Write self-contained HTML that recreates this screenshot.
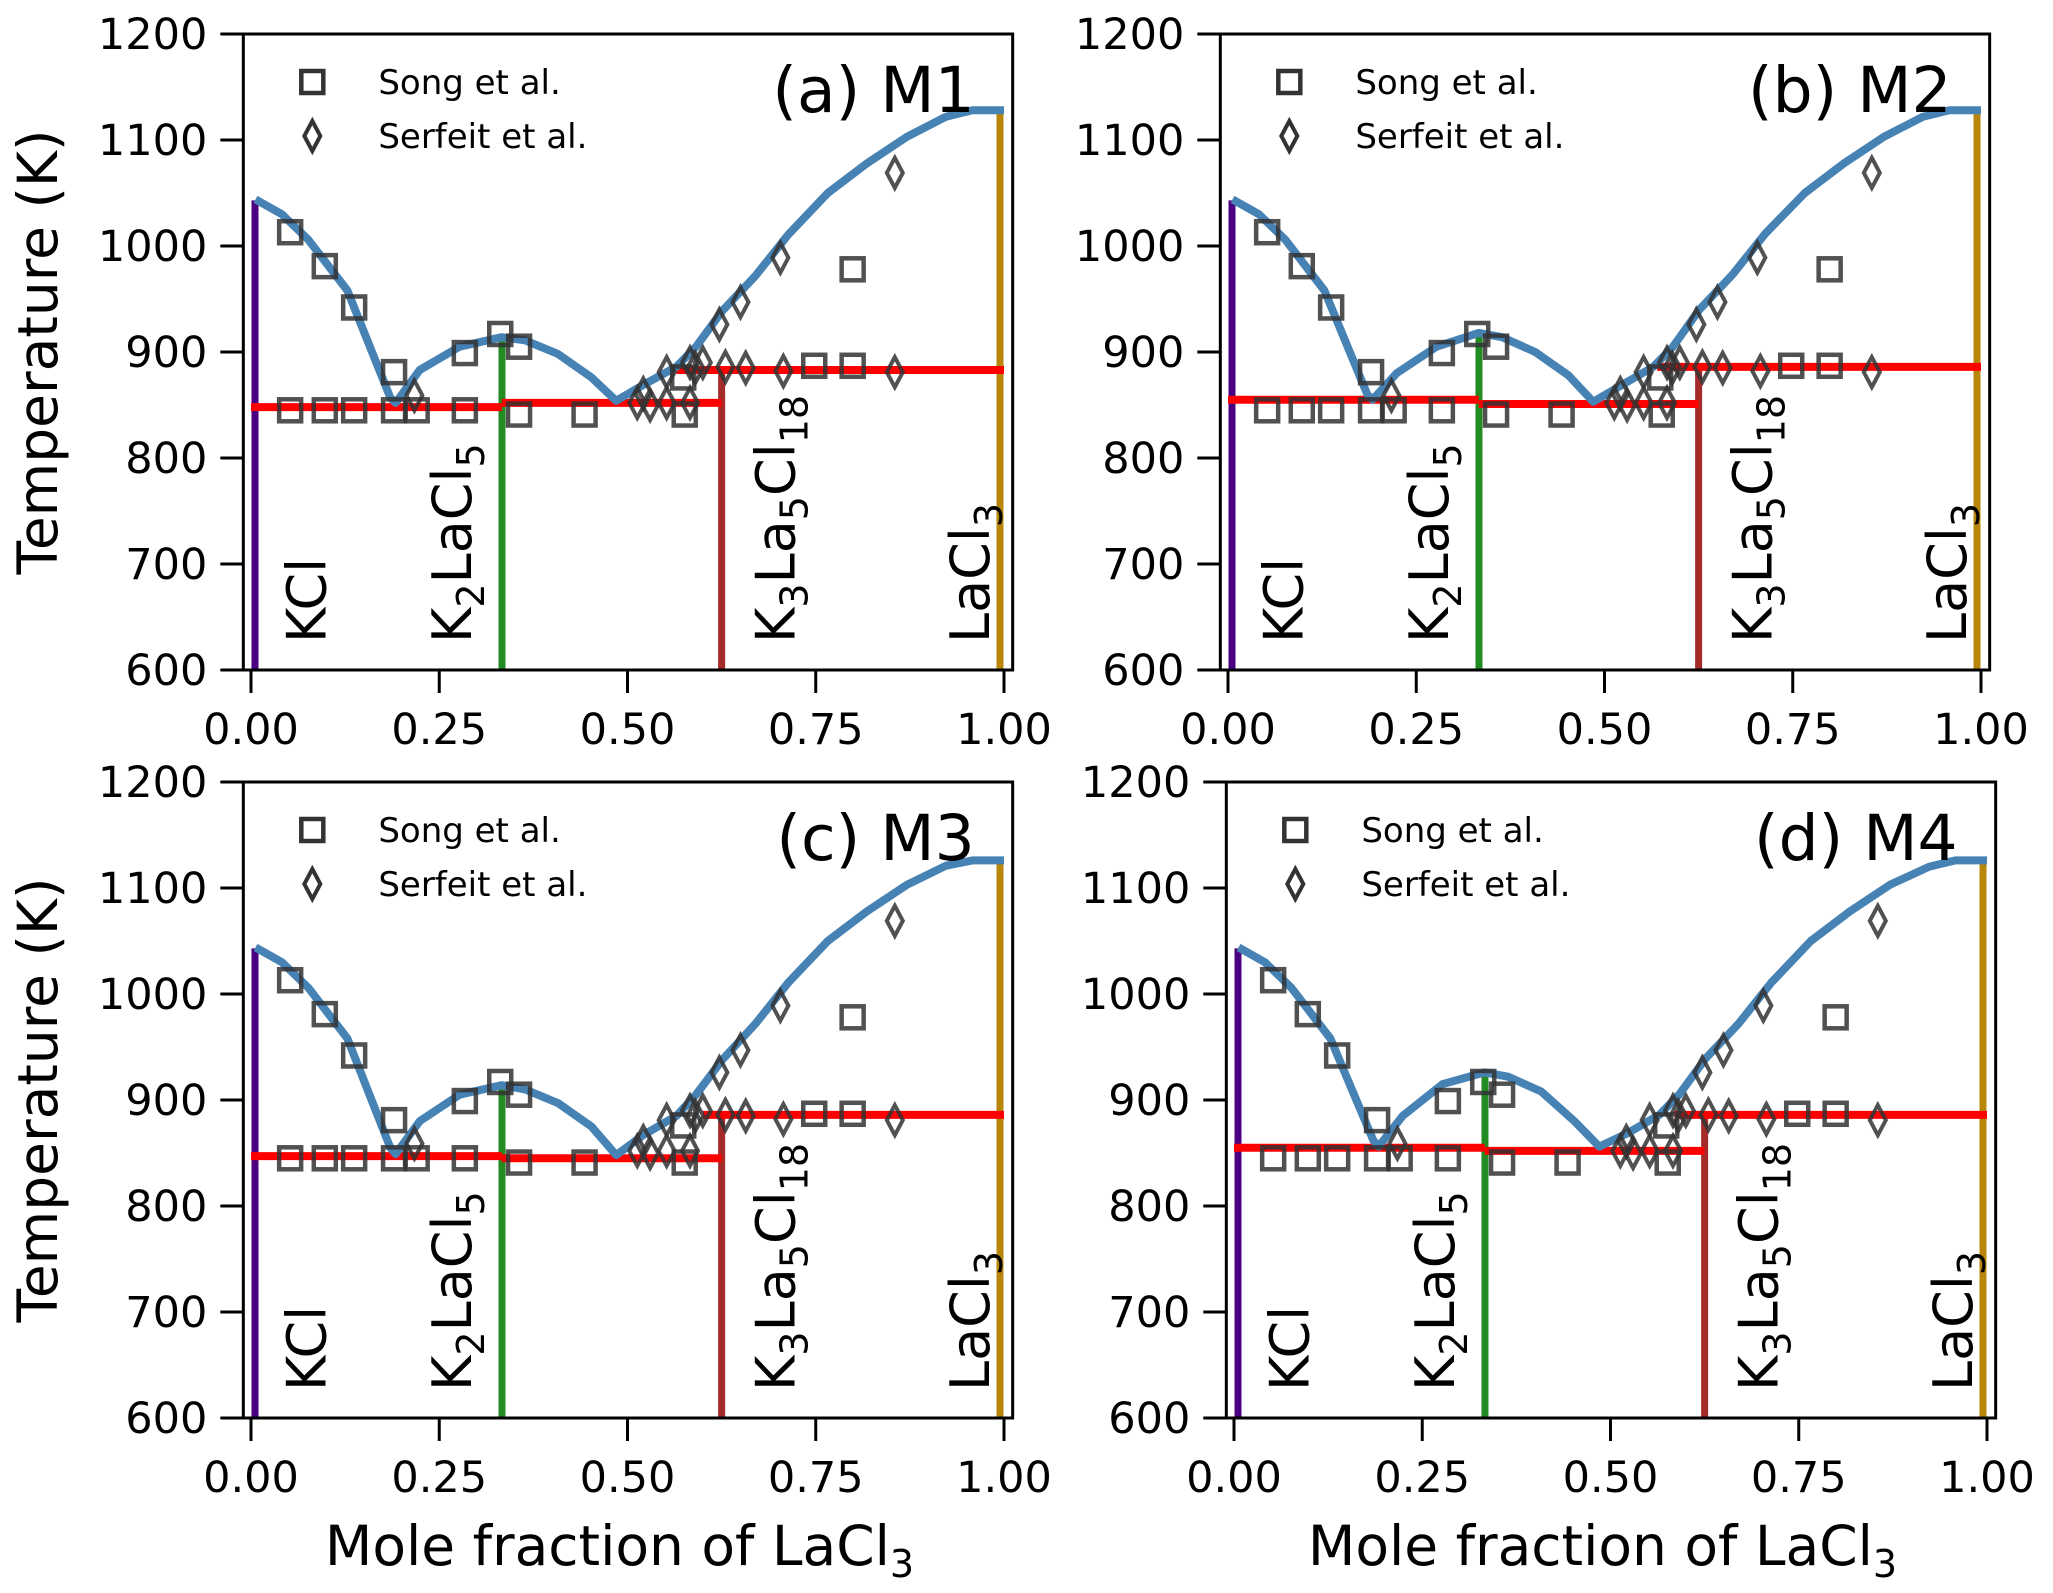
<!DOCTYPE html>
<html><head><meta charset="utf-8"><style>
html,body{margin:0;padding:0;background:#fff}
svg{display:block;font-family:"DejaVu Sans","Liberation Sans",sans-serif}
</style></head><body>
<svg id="fig" width="2053" height="1593" viewBox="0 0 2053 1593" xmlns="http://www.w3.org/2000/svg">
<rect width="2053" height="1593" fill="#fff"/>
</svg>
<script>
// ---- data ----
const panelTitles = ["(a) M1", "(b) M2", "(c) M3", "(d) M4"];
const xTicks = [0, 0.25, 0.5, 0.75, 1.0];
const xTickLabels = ["0.00", "0.25", "0.50", "0.75", "1.00"];
const yTicks = [600, 700, 800, 900, 1000, 1100, 1200];
const yTickLabels = ["600", "700", "800", "900", "1000", "1100", "1200"];
const liqX = [0.006,0.041,0.076,0.128,0.185,0.192,0.224,0.277,0.333,0.364,0.408,0.452,0.485,0.521,0.565,0.591,0.626,0.67,0.714,0.766,0.818,0.871,0.923,0.958,1.0];
const liqM1 = [1044,1030,1006,958,857,852,883,905,914,911,898,876,854,869,886,905,939,972,1011,1050,1078,1103,1122,1128,1128];
const liqM2 = [1044,1030,1006,958,860,855,880,905,918,914,900,878,853,868,886,905,940,973,1012,1050,1078,1103,1122,1128,1128];
const liqM3 = [1044,1030,1006,958,855,849,880,905,914,910,897,875,848,867,885,905,938,972,1011,1050,1078,1103,1121,1126,1126];
const liqM4 = [1044,1030,1006,958,862,856,885,915,926,922,908,880,856,868,886,905,939,972,1011,1050,1078,1103,1120,1126,1126];
const liquidus = [liqM1, liqM2, liqM3, liqM4];
const redM1 = [[0,0.333,848],[0.333,0.625,852],[0.565,1.0,883]];
const redM2 = [[0,0.333,855],[0.333,0.625,851],[0.57,1.0,886]];
const redM3 = [[0,0.333,847],[0.333,0.625,845],[0.6,1.0,886]];
const redM4 = [[0,0.333,855],[0.333,0.625,852],[0.585,1.0,886]];
const redLines = [redM1, redM2, redM3, redM4];
const compX = [0, 0.3333, 0.625, 1.0];
const compTopM1 = [1043, 915, 884, 1130];
const compTopM2 = [1043, 918, 886, 1128];
const compTopM3 = [1043, 914, 886, 1126];
const compTopM4 = [1043, 928, 886, 1126];
const compTops = [compTopM1, compTopM2, compTopM3, compTopM4];
const songX = [0.052,0.098,0.137,0.19,0.052,0.098,0.137,0.19,0.22,0.284,0.284,0.331,0.356,0.356,0.443,0.576,0.574,0.748,0.799,0.799];
const songT = [1013,981,942,881,845,845,845,845,845,845,899,917,905,841,841,841,876,887,887,978];
const serfX = [0.217,0.513,0.521,0.552,0.552,0.583,0.583,0.6,0.622,0.63,0.65,0.657,0.703,0.707,0.855,0.855,0.53,0.59];
const serfT = [859,852,861,881,852,852,890,890,926,886,947,885,989,882,1069,881,850,885];

// ---- layout ----
const NS = "http://www.w3.org/2000/svg";
const svg = document.getElementById("fig");
const panels = [
  {x0:251, x1:1004, yTop:34, yBot:670, ylab:true, xlab:false},
  {x0:1228, x1:1981, yTop:34, yBot:670, ylab:false, xlab:false},
  {x0:251, x1:1004, yTop:782, yBot:1418, ylab:true, xlab:true},
  {x0:1234, x1:1987, yTop:782, yBot:1418, ylab:false, xlab:true}
];
function mk(tag, attrs, parent){
  const e = document.createElementNS(NS, tag);
  for (const k in attrs) e.setAttribute(k, attrs[k]);
  (parent||svg).appendChild(e);
  return e;
}
function comp(g, parts, x, y){
  const t = mk("text", {transform:`translate(${x},${y}) rotate(-90)`, "font-size":54, fill:"#000"}, g);
  
  
  parts.forEach(p=>{
    const s = mk("tspan", {}, t);
    if (p[1]) { s.setAttribute("font-size", 38); s.setAttribute("dy", 13); }
    else { s.setAttribute("dy", p[2]||0); }
    s.textContent = p[0];
  });
  return t;
}
panels.forEach((P, i)=>{
  const sx = v => P.x0 + v*(P.x1-P.x0);
  const sy = T => P.yBot - (T-600)/600*(P.yBot-P.yTop);
  const g = mk("g", {});
  
  
  const fl = sx(-0.0102), fr = sx(1.0115);
  const colors = ["#4b0082","#228b22","#a52a2a","#b8860b"];
  compX.forEach((cx, k)=>{
    const off = (k==0?4:(k==3?-4:0));
    const l = mk("line", {x1:sx(cx)+off, x2:sx(cx)+off, y1:sy(600), y2:sy(compTops[i][k]), stroke:colors[k], "stroke-width":7}, g);
    
    
  });
  redLines[i].forEach(r=>{
    const l = mk("line", {x1:sx(r[0]), x2:sx(r[1]), y1:sy(r[2]), y2:sy(r[2]), stroke:"#ff0000", "stroke-width":8}, g);
    
    
  });
  const pts = liqX.map((x,k)=>sx(x).toFixed(1)+","+sy(liquidus[i][k]).toFixed(1)).join(" ");
  const pl = mk("polyline", {points:pts, fill:"none", stroke:"#4682b4", "stroke-width":8, "stroke-linejoin":"round"}, g);
  
  
  songX.forEach((x,k)=>{
    const m = mk("rect", {x:sx(x)-11, y:sy(songT[k])-11, width:22, height:22, fill:"none", stroke:"#333", "stroke-opacity":0.85, "stroke-width":4.5}, g);
    
    
  });
  serfX.forEach((x,k)=>{
    const cx = sx(x), cy = sy(serfT[k]);
    const m = mk("polygon", {points:`${cx},${cy-15} ${cx+8},${cy} ${cx},${cy+15} ${cx-8},${cy}`, fill:"none", stroke:"#333", "stroke-opacity":0.85, "stroke-width":4}, g);
    
    
  });
  const by = sy(600) - 27;
  comp(g, [["KCl",0]], sx(0.099), by);
  comp(g, [["K",0],["2",1],["LaCl",0,-13],["5",1]], sx(0.292), by);
  comp(g, [["K",0],["3",1],["La",0,-13],["5",1],["Cl",0,-13],["18",1]], sx(0.722), by);
  comp(g, [["LaCl",0],["3",1]], sx(0.98), by);
  const fr_ = mk("rect", {x:fl, y:P.yTop, width:fr-fl, height:P.yBot-P.yTop, fill:"none", stroke:"#000", "stroke-width":3}, g);
  
  
  yTicks.forEach((t,k)=>{
    mk("line", {x1:fl-23, x2:fl, y1:sy(t), y2:sy(t), stroke:"#000", "stroke-width":3}, g);
    const tl = mk("text", {x:fl-36, y:sy(t)+15, "text-anchor":"end", "font-size":43, fill:"#000"}, g);
    
    
    tl.textContent = yTickLabels[k];
  });
  xTicks.forEach((t,k)=>{
    mk("line", {x1:sx(t), x2:sx(t), y1:P.yBot, y2:P.yBot+23, stroke:"#000", "stroke-width":3}, g);
    const tl = mk("text", {x:sx(t), y:P.yBot+74, "text-anchor":"middle", "font-size":43, fill:"#000"}, g);
    
    
    tl.textContent = xTickLabels[k];
  });
  const tt = mk("text", {x:fr-38, y:P.yTop+78, "text-anchor":"end", "font-size":63, fill:"#000"}, g);
  
  
  tt.textContent = panelTitles[i];
  const lg = mk("g", {}, g);
  
  
  const lx = fl + 69, ly1 = P.yTop + 48, ly2 = P.yTop + 102;
  mk("rect", {x:lx-11, y:ly1-11, width:22, height:22, fill:"none", stroke:"#333", "stroke-width":4.5}, lg);
  mk("polygon", {points:`${lx},${ly2-15} ${lx+8},${ly2} ${lx},${ly2+15} ${lx-8},${ly2}`, fill:"none", stroke:"#333", "stroke-width":4}, lg);
  const t1 = mk("text", {x:lx+66, y:ly1+12, "font-size":34, fill:"#000"}, lg);
  
  
  t1.textContent = "Song et al.";
  const t2 = mk("text", {x:lx+66, y:ly2+12, "font-size":34, fill:"#000"}, lg);
  
  
  t2.textContent = "Serfeit et al.";
  if (P.ylab){
    const yl = mk("text", {transform:`translate(57,${(P.yTop+P.yBot)/2}) rotate(-90)`, "text-anchor":"middle", "font-size":55, fill:"#000"}, g);
    
    
    yl.textContent = "Temperature (K)";
  }
  if (P.xlab){
    const xl = mk("text", {x:(P.x0+P.x1)/2 - 8, y:1565, "text-anchor":"middle", "font-size":55, fill:"#000"}, g);
    
    
    const a = mk("tspan", {}, xl); a.textContent = "Mole fraction of LaCl";
    const b = mk("tspan", {"font-size":38, dy:12}, xl); b.textContent = "3";
  }
});
</script>
</body></html>
